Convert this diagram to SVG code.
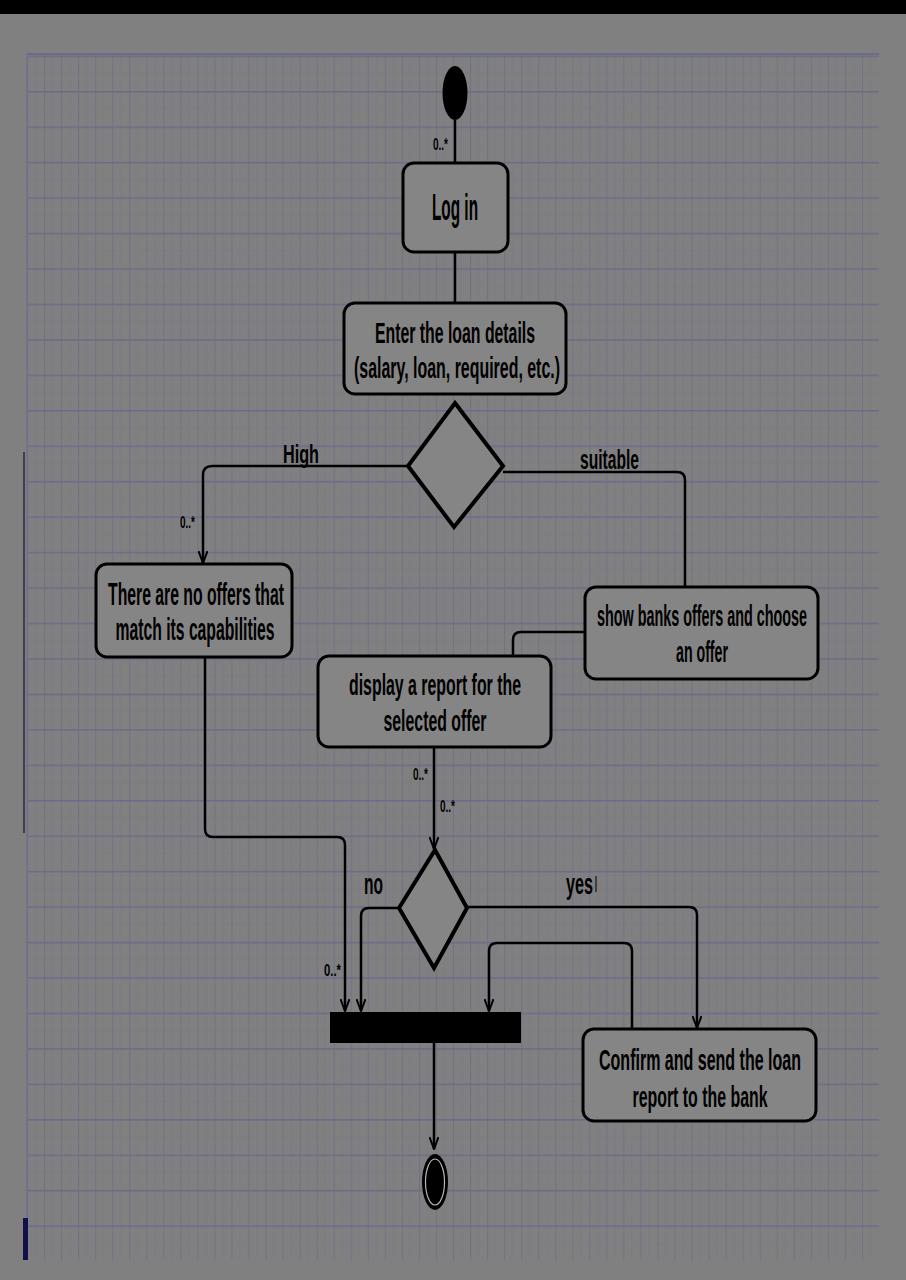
<svg xmlns="http://www.w3.org/2000/svg" width="906" height="1280" viewBox="0 0 906 1280">
<defs>
<pattern id="grid" patternUnits="userSpaceOnUse" x="27" y="55.5" width="17.04" height="35.45">
<rect width="17.04" height="35.45" fill="#808080"/>
<line x1="8.52" y1="0" x2="8.52" y2="35.45" stroke="#7b7b84" stroke-width="0.8"/>
<line x1="0" y1="17.72" x2="17.04" y2="17.72" stroke="#7a7a86" stroke-width="0.8"/>
<line x1="0.5" y1="0" x2="0.5" y2="35.45" stroke="#727286" stroke-width="1"/>
<line x1="0" y1="0.8" x2="17.04" y2="0.8" stroke="#6c6c8a" stroke-width="1.6"/>
</pattern>
<marker id="arr" markerUnits="userSpaceOnUse" viewBox="0 0 14 10" refX="13" refY="5" markerWidth="14" markerHeight="10" orient="auto">
<path d="M1,0.5 L13,5 L1,9.5" fill="none" stroke="#000" stroke-width="2"/>
</marker>
</defs>
<style>
.box{fill:#858585;stroke:#000;stroke-width:3}
.edge{fill:none;stroke:#000;stroke-width:2.5}
.t{font-family:"Liberation Sans",Arial,sans-serif;font-weight:bold;fill:#000;text-anchor:middle}
.l{font-family:"Liberation Sans",Arial,sans-serif;font-weight:bold;fill:#000}
.m{font-family:"Liberation Sans",Arial,sans-serif;font-weight:bold;fill:#000;font-size:16px}
</style>
<rect x="0" y="0" width="906" height="1280" fill="#808080"/>
<rect x="0" y="0" width="906" height="14" fill="#000"/>
<rect x="27" y="53" width="852" height="1207" fill="url(#grid)"/>
<line x1="27" y1="54" x2="879" y2="54" stroke="#6c6c8a" stroke-width="2"/>
<line x1="27" y1="53" x2="27" y2="1260" stroke="#707090" stroke-width="1.5"/>
<line x1="24" y1="452" x2="24" y2="833" stroke="#2a2a3a" stroke-width="1.5"/>
<rect x="23" y="1218" width="5" height="42" fill="#10104a"/>

<g id="connectors">
<path class="edge" d="M455,120 V163"/>
<path class="edge" d="M455,252 V303"/>
<path class="edge" d="M408,466 H212 Q203,466 203,475 V563" marker-end="url(#arr)"/>
<path class="edge" d="M503,472 H677 Q685,472 685,480 V612" marker-end="url(#arr)"/>
<path class="edge" d="M585,632 H521 Q513,632 513,640 V656"/>
<path class="edge" d="M434,747 V849" marker-end="url(#arr)"/>
<path class="edge" d="M399,908 H369 Q361,908 361,916 V1011" marker-end="url(#arr)"/>
<path class="edge" d="M467,907 H689 Q697,907 697,915 V1028" marker-end="url(#arr)"/>
<path class="edge" d="M205,657 V829 Q205,837 213,837 H337 Q345,837 345,845 V1011" marker-end="url(#arr)"/>
<path class="edge" d="M632,1029 V951 Q632,943 624,943 H497 Q489,943 489,951 V1011" marker-end="url(#arr)"/>
<path class="edge" d="M434,1043 V1149" marker-end="url(#arr)"/>
<text class="m" x="433" y="150" textLength="15" lengthAdjust="spacingAndGlyphs">0..*</text>
<text class="m" x="180" y="528" textLength="15" lengthAdjust="spacingAndGlyphs">0..*</text>
<text class="m" x="413" y="780" textLength="15" lengthAdjust="spacingAndGlyphs">0..*</text>
<text class="m" x="440" y="812" textLength="15" lengthAdjust="spacingAndGlyphs">0..*</text>
<text class="m" x="324" y="976" textLength="17" lengthAdjust="spacingAndGlyphs">0..*</text>
<text class="l" x="283" y="463" font-size="26" textLength="36" lengthAdjust="spacingAndGlyphs">High</text>
<text class="l" x="580" y="469" font-size="27" textLength="59" lengthAdjust="spacingAndGlyphs">suitable</text>
<text class="l" x="364" y="894" font-size="30" textLength="19" lengthAdjust="spacingAndGlyphs">no</text>
<text class="l" x="566" y="894" font-size="30" textLength="27" lengthAdjust="spacingAndGlyphs">yes</text>
<line x1="596" y1="876" x2="596" y2="892" stroke="#000" stroke-width="1"/>
</g>

<g id="start"><ellipse cx="455" cy="93" rx="12.5" ry="27" fill="#000"/></g>

<g id="login">
<rect class="box" x="403" y="163" width="105" height="89" rx="11"/>
<text class="t" x="455" y="220" font-size="36" textLength="46" lengthAdjust="spacingAndGlyphs">Log in</text>
</g>

<g id="enter">
<rect class="box" x="344" y="303" width="222" height="91" rx="11"/>
<text class="t" x="455" y="343" font-size="30" textLength="160" lengthAdjust="spacingAndGlyphs">Enter the loan details</text>
<text class="t" x="457" y="378" font-size="30" textLength="206" lengthAdjust="spacingAndGlyphs">(salary, loan, required, etc.)</text>
</g>

<g id="decision1">
<polygon points="455,403 503,466 454,527 408,466" fill="#858585" stroke="#000" stroke-width="4" stroke-linejoin="miter"/>
</g>

<g id="nooffers">
<rect class="box" x="96" y="564" width="196" height="93" rx="11"/>
<text class="t" x="196" y="605" font-size="31" textLength="176" lengthAdjust="spacingAndGlyphs">There are no offers that</text>
<text class="t" x="195" y="640" font-size="31" textLength="159" lengthAdjust="spacingAndGlyphs">match its capabilities</text>
</g>

<g id="showoffers">
<rect class="box" x="585" y="587" width="233" height="92" rx="11"/>
<text class="t" x="702" y="626" font-size="30" textLength="210" lengthAdjust="spacingAndGlyphs">show banks offers and choose</text>
<text class="t" x="702" y="662" font-size="30" textLength="52" lengthAdjust="spacingAndGlyphs">an offer</text>
</g>

<g id="report">
<rect class="box" x="318" y="656" width="233" height="91" rx="11"/>
<text class="t" x="435" y="695" font-size="29" textLength="172" lengthAdjust="spacingAndGlyphs">display a report for the</text>
<text class="t" x="435" y="731" font-size="29" textLength="103" lengthAdjust="spacingAndGlyphs">selected offer</text>
</g>

<g id="decision2">
<polygon points="435,850 467,908 434,968 399,908" fill="#858585" stroke="#000" stroke-width="4"/>
</g>

<g id="join">
<rect x="330" y="1012" width="191" height="31" fill="#000"/>
</g>

<g id="confirm">
<rect class="box" x="583" y="1029" width="233" height="92" rx="11"/>
<text class="t" x="700" y="1070" font-size="30" textLength="202" lengthAdjust="spacingAndGlyphs">Confirm and send the loan</text>
<text class="t" x="700" y="1107" font-size="30" textLength="135" lengthAdjust="spacingAndGlyphs">report to the bank</text>
</g>

<g id="end">
<ellipse cx="435" cy="1182" rx="13" ry="28" fill="#000"/>
<ellipse cx="435" cy="1182" rx="9.5" ry="23" fill="#000" stroke="#b8b8b8" stroke-width="1.2"/>
</g>
</svg>
